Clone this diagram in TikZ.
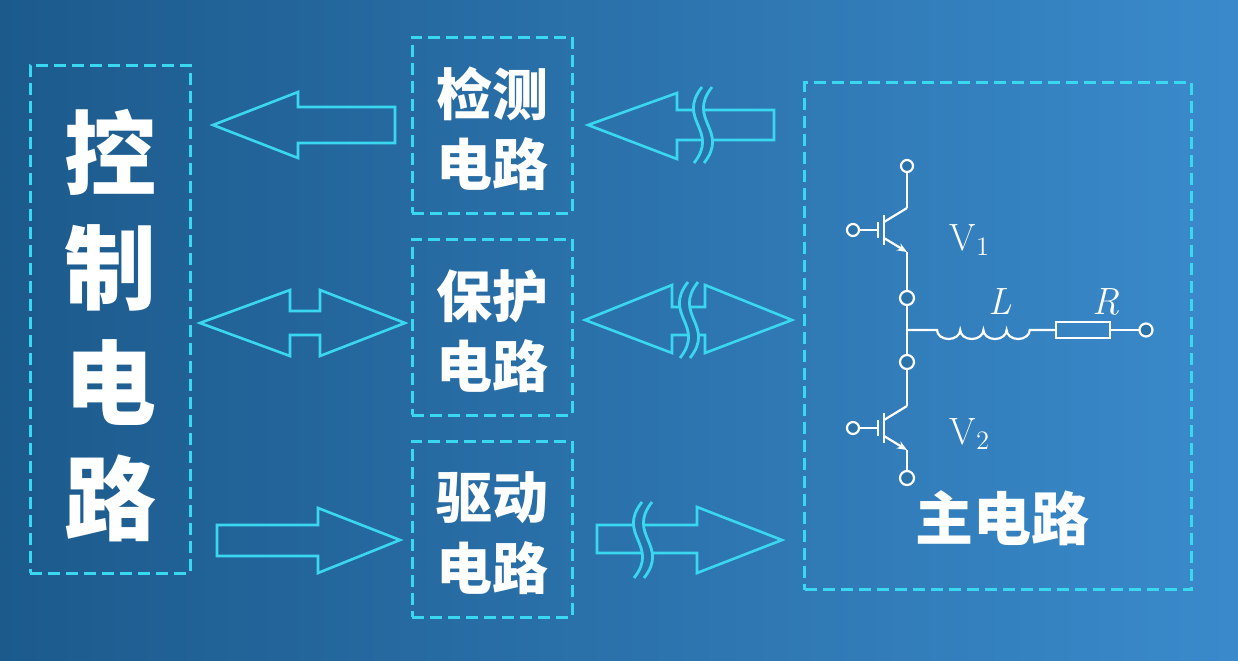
\documentclass[tikz,border=0pt]{standalone}
\usepackage{fontspec}
\newfontfamily\cjk{Noto Sans CJK SC}
\usetikzlibrary{arrows.meta}
\definecolor{cy}{HTML}{3AD8F0}
\definecolor{bgA}{HTML}{1C5A8C}
\definecolor{bgB}{HTML}{3A8ACB}
\definecolor{bgM}{HTML}{2A72AA}
\tikzset{
  box/.style={draw=cy,dashed,line width=1.5pt,dash pattern=on 6pt off 3pt},
  barrow/.style={draw=cy,line width=1.3pt,line join=miter},
  wire/.style={draw=white,line width=1.1pt},
  term/.style={draw=white,line width=1.1pt,fill=bgM},
  zh/.style={text=white,font=\cjk\bfseries\fontsize{28}{30}\selectfont,align=center,inner sep=0},
}
\newcommand{\brk}[2]{%
  \fill[bgM] (#1+4,#2-38) .. controls (#1-22,#2-5) and (#1+22,#2+5) .. (#1-4,#2+38) -- (#1+6,#2+38) .. controls (#1+32,#2+5) and (#1-12,#2-5) .. (#1+14,#2-38) -- cycle;
  \draw[cy,line width=1.4pt] (#1+4,#2-38) .. controls (#1-22,#2-5) and (#1+22,#2+5) .. (#1-4,#2+38);
  \draw[cy,line width=1.4pt] (#1+14,#2-38) .. controls (#1-12,#2-5) and (#1+32,#2+5) .. (#1+6,#2+38);}
\newcommand{\igbt}[3]{% x of rail, top y, gate circle y
  \draw[wire] (#1-23,#3-15) -- (#1-23,#3+15);
  \draw[wire] (#1-29,#3-8) -- (#1-29,#3+8);
  \draw[wire] (#1-48,#3) -- (#1-29,#3);
  \draw[wire] (#1-23,#3-8) -- (#1,#3-22);
  \draw[wire,-{Stealth[length=5pt,width=4pt]}] (#1-23,#3+8) -- (#1,#3+22);
  \draw[term] (#1-54,#3) circle (6);}
\begin{document}
\begin{tikzpicture}[x=0.5pt,y=-0.5pt]
\shade[left color=bgA,right color=bgB] (0,0) rectangle (1238,660);
\useasboundingbox (0,0) rectangle (1238,660);
% boxes
\node[box,minimum width=80pt,minimum height=254pt] (ctrl) at (110,319) {};
\node[box,minimum width=80pt,minimum height=88pt] (jc) at (492,125) {};
\node[box,minimum width=80pt,minimum height=88pt] (bh) at (492,327) {};
\node[box,minimum width=80pt,minimum height=88pt] (qd) at (492,529) {};
\node[box,minimum width=193.5pt,minimum height=253.5pt] (main) at (998,336) {};
% texts
\node[zh,font=\cjk\bfseries\fontsize{46}{48}\selectfont] (t1) at (110,152) {控};
\node[zh,font=\cjk\bfseries\fontsize{46}{48}\selectfont] (t2) at (110,268) {制};
\node[zh,font=\cjk\bfseries\fontsize{46}{48}\selectfont] (t3) at (110,383) {电};
\node[zh,font=\cjk\bfseries\fontsize{46}{48}\selectfont] (t4) at (110,498) {路};
\node[zh] (jct) at (492,94) {检测};
\node[zh] (jcb) at (492,164) {电路};
\node[zh] (bht) at (492,296) {保护};
\node[zh] (bhb) at (492,366) {电路};
\node[zh] (qdt) at (492,498) {驱动};
\node[zh] (qdb) at (492,568) {电路};
\node[zh,font=\cjk\bfseries\fontsize{29}{31}\selectfont] (mt) at (1002,518) {主电路};
% left arrows
\draw[barrow] (395,107) -- (298,107) -- (298,92) -- (213,125) -- (298,158) -- (298,143) -- (395,143) -- cycle;
\draw[barrow] (200,323) -- (290,290) -- (290,311) -- (320,311) -- (320,290) -- (405,323) -- (320,356) -- (320,335) -- (290,335) -- (290,356) -- cycle;
\draw[barrow] (217,525) -- (318,525) -- (318,508) -- (400,540) -- (318,573) -- (318,556) -- (217,556) -- cycle;
% right arrows
\draw[barrow] (774,110) -- (677,110) -- (677,93) -- (588,125) -- (677,159) -- (677,140) -- (774,140) -- cycle;
\brk{698}{125}
\draw[barrow] (585,320) -- (672,285) -- (672,307) -- (705,307) -- (705,285) -- (792,320) -- (705,353) -- (705,335) -- (672,335) -- (672,353) -- cycle;
\brk{684}{320}
\draw[barrow] (597,525) -- (697,525) -- (697,507) -- (782,540) -- (697,573) -- (697,553) -- (597,553) -- cycle;
\brk{638}{540}
% circuit
\draw[wire] (907,171) -- (907,208);
\igbt{907}{208}{230}
\draw[wire] (907,252) -- (907,292);
\draw[wire] (907,304) -- (907,356);
\igbt{907}{405}{428}
\draw[wire] (907,368) -- (907,406);
\draw[wire] (907,450) -- (907,472);
\draw[term] (907,166) circle (6);
\draw[term] (907,298) circle (7);
\draw[term] (907,362) circle (7);
\draw[term] (907,478) circle (7);
\draw[wire] (907,330) -- (937,330)
  arc (180:0:11.6 and 9) arc (180:0:11.6 and 9) arc (180:0:11.6 and 9) arc (180:0:11.6 and 9)
  -- (1056,330);
\draw[wire] (1056,322) rectangle (1110,338);
\draw[wire] (1110,330) -- (1139,330);
\draw[term] (1146,330) circle (6.5);
\node[text=white,font=\fontsize{19}{21}\selectfont,inner sep=0] (v1) at (970,240) {V\textsubscript{1}};
\node[text=white,font=\fontsize{19}{21}\selectfont,inner sep=0] (v2) at (970,434) {V\textsubscript{2}};
\node[text=white,font=\itshape\fontsize{19}{21}\selectfont,inner sep=0] (lL) at (1000,302) {L};
\node[text=white,font=\itshape\fontsize{19}{21}\selectfont,inner sep=0] (rR) at (1106,302) {R};
\end{tikzpicture}
\end{document}
